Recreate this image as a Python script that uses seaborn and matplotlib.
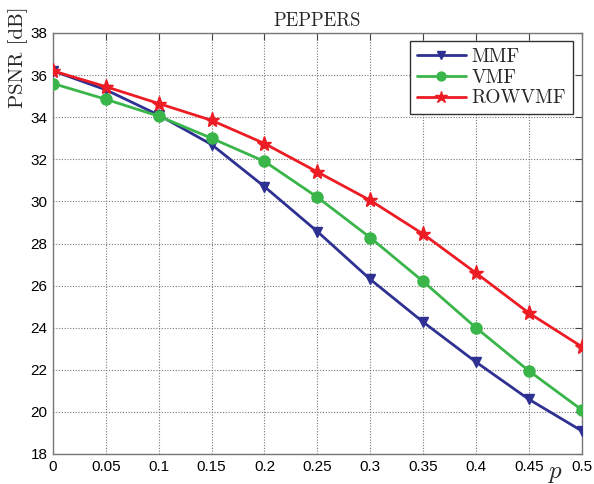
import matplotlib
matplotlib.use("Agg")
import matplotlib.pyplot as plt
import seaborn as sns
import pandas as pd

p_values = [0, 0.05, 0.1, 0.15, 0.2, 0.25, 0.3, 0.35, 0.4, 0.45, 0.5]
mmf = [36.2, 35.3, 34.1, 32.7, 30.7, 28.57, 26.3, 24.27, 22.37, 20.6, 19.1]
vmf = [35.6, 34.85, 34.05, 33.0, 31.9, 30.2, 28.28, 26.2, 24.0, 21.95, 20.1]
rowvmf = [36.2, 35.45, 34.65, 33.85, 32.75, 31.4, 30.05, 28.45, 26.6, 24.7, 23.1]
methods = ["MMF", "VMF", "ROWVMF"]
colors = {"MMF": "#2E3192", "VMF": "#39B54A", "ROWVMF": "#ED1C24"}
markers = {"MMF": "v", "VMF": "o", "ROWVMF": "*"}
msizes = {"MMF": 7.5, "VMF": 8, "ROWVMF": 11}
yticks = [18, 20, 22, 24, 26, 28, 30, 32, 34, 36, 38]
xticks = p_values
xticklabels = ["0", "0.05", "0.1", "0.15", "0.2", "0.25", "0.3", "0.35", "0.4", "0.45", "0.5"]

df = pd.DataFrame({
    "p": p_values * 3,
    "psnr": mmf + vmf + rowvmf,
    "method": sum([[m] * len(p_values) for m in methods], []),
})

sns.set_style("white")
plt.rcParams["font.family"] = ["Liberation Sans", "DejaVu Sans"]
plt.rcParams["mathtext.fontset"] = "cm"

fig = plt.figure(figsize=(5.94, 4.84), dpi=100)
ax = fig.add_axes([53 / 594, 1 - 454 / 484, (581.7 - 53) / 594, (454 - 33) / 484])

for m in methods:
    sub = df[df["method"] == m]
    sns.lineplot(data=sub, x="p", y="psnr", ax=ax, color=colors[m], marker=markers[m],
                 markersize=msizes[m], markeredgecolor=colors[m], markeredgewidth=1,
                 linewidth=2.0, label=m, zorder=3)

ax.set_xlim(0, 0.5)
ax.set_ylim(18, 38)
ax.set_xticks(xticks)
ax.set_xticklabels(xticklabels)
ax.set_yticks(yticks)
ax.tick_params(direction="in", length=5, width=0.8, labelsize=11, colors="#444444",
               top=True, right=True, labelcolor="black", pad=4)
ax.grid(True, linestyle=(0, (1, 1.5)), color="#777777", linewidth=0.8)
for s in ax.spines.values():
    s.set_color("#777777")
    s.set_linewidth(1.0)

ax.set_xlabel("")
ax.set_ylabel("PSNR [dB]", family="cmr10", fontsize=15, va="center")
ax.yaxis.set_label_coords(-0.066, 0.943)
ax.set_title("PEPPERS", family="cmr10", fontsize=13.5, pad=5)
ax.text(0.951, -0.057, "$p$", transform=ax.transAxes, fontsize=18, ha="center", va="baseline")

leg = ax.legend(loc="upper right", bbox_to_anchor=(0.983, 0.981), prop={"family": "cmr10", "size": 14},
                frameon=True, fancybox=False, edgecolor="#333333", handlelength=2.5,
                borderpad=0.35, labelspacing=0.15, handletextpad=0.3, borderaxespad=0,
                markerscale=0.8)
leg.get_frame().set_linewidth(1.0)
leg.get_frame().set_alpha(1)

fig.savefig("out.png", dpi=100)
